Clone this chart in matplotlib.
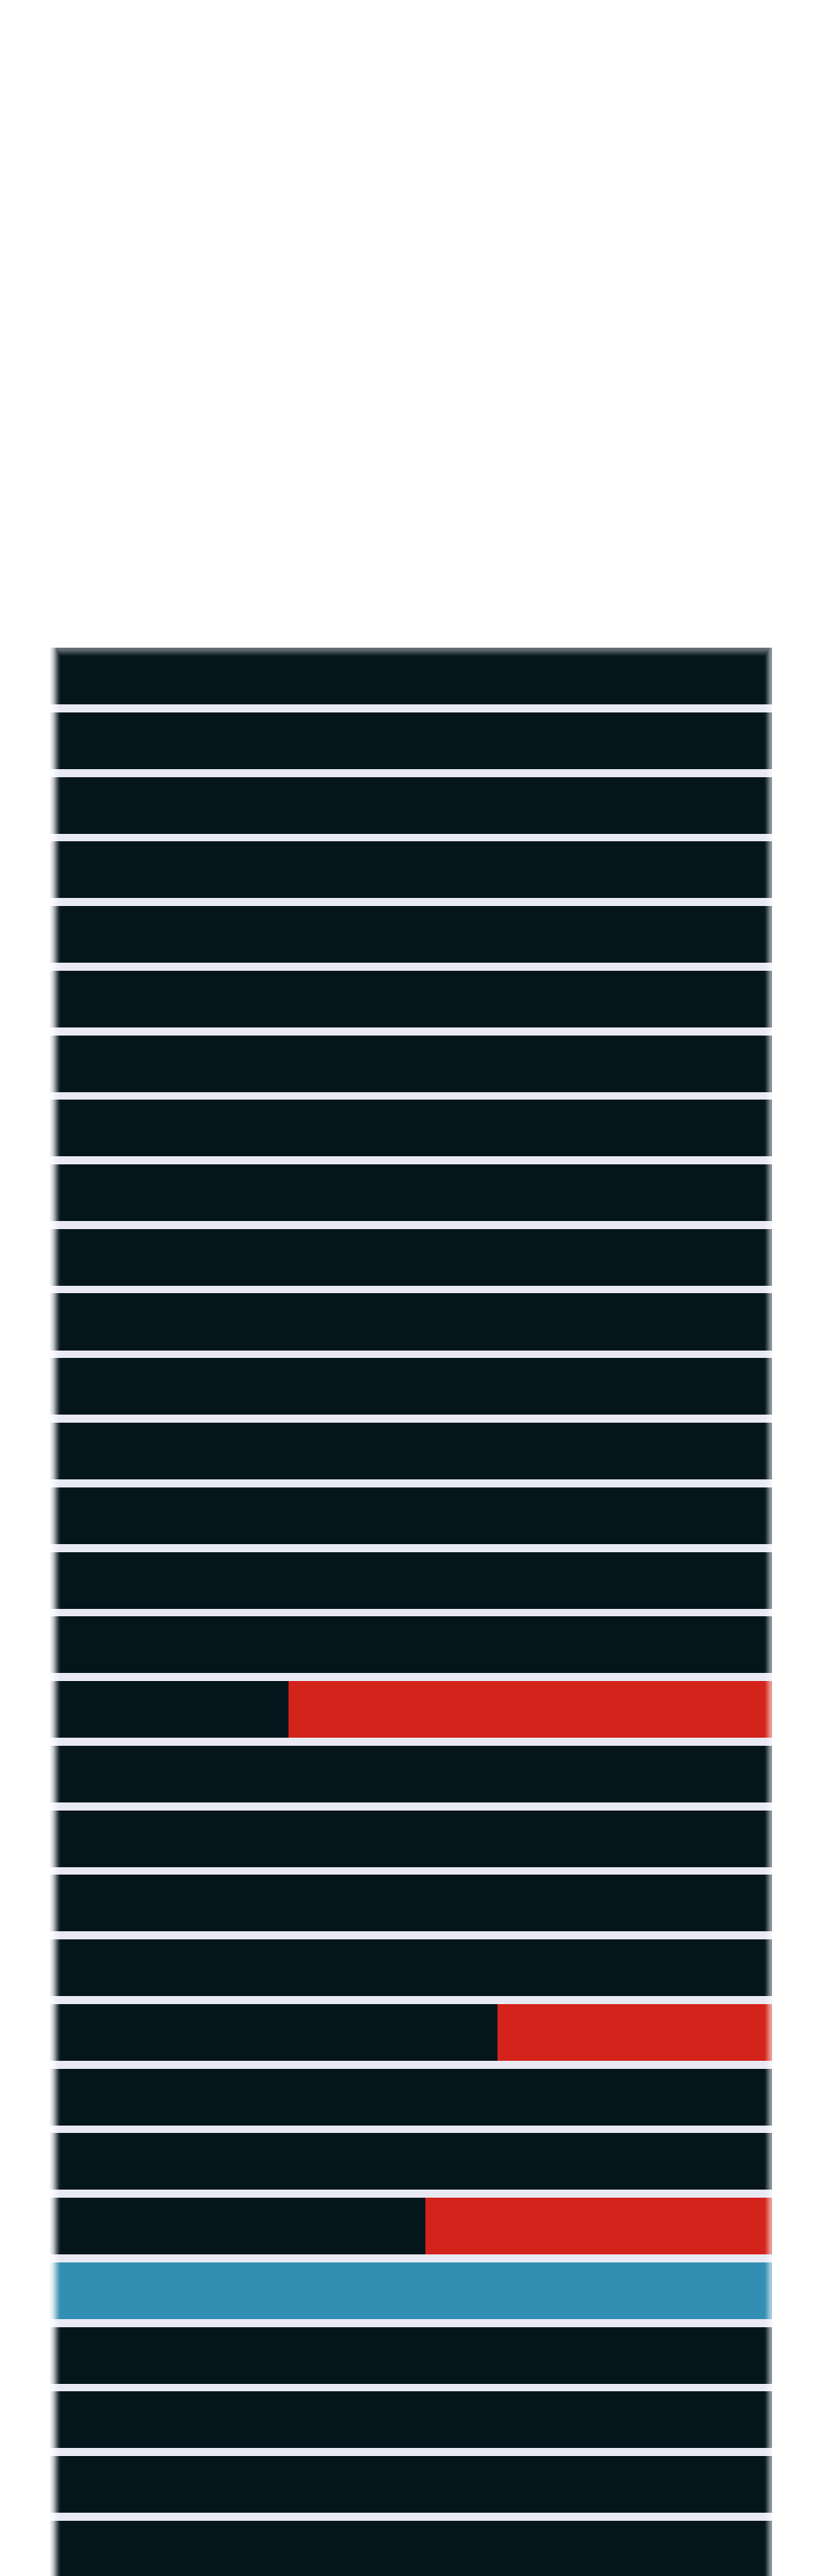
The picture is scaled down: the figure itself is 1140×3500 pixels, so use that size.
import numpy as np
import matplotlib
matplotlib.use("Agg")
import matplotlib.pyplot as plt

# 30 rows, share of each row (percent); last row is cut off by the figure edge
rows = list(range(30))
dark_vals = [100] * 16 + [33] + [100] * 4 + [62] + [100] * 2 + [52] + [0] + [100] * 4
red_vals = [0] * 16 + [67] + [0] * 4 + [38] + [0] * 2 + [48] + [0] + [0] * 4
blue_vals = [0] * 25 + [100] + [0] * 4

DARK = "#04151c"
RED = "#d4231a"
BLUE = "#328eb2"
GAP = "#e8e9f3"

W, H = 1140, 3500
fig = plt.figure(figsize=(W / 100, H / 100), dpi=100)
fig.patch.set_facecolor("white")

ax_l, ax_w = 68 / W, 981 / W
ax_top = 880
ax_h = H - ax_top
ax = fig.add_axes([ax_l, 0, ax_w, ax_h / H])
ax.set_facecolor(GAP)

bh = 0.8775
y = np.array(rows)
d = np.array(dark_vals)
r = np.array(red_vals)
b = np.array(blue_vals)
ax.barh(y, d, height=bh, color=DARK, lw=0)
ax.barh(y, r, left=d, height=bh, color=RED, lw=0)
ax.barh(y, b, left=d + r, height=bh, color=BLUE, lw=0)

row_px = 87.75
ax.set_xlim(0, 100)
ax.set_ylim(-bh / 2 + ax_h / row_px, -bh / 2)
ax.set_xticks([])
ax.set_yticks([])
for s in ax.spines.values():
    s.set_visible(False)

# soft white fade along the left, right and top edges
pw, ph = 981, ax_h
xs = np.arange(pw)[None, :]
ys = np.arange(ph)[:, None]
def ramp(dist, width, peak):
    t = np.clip(dist / width, 0, 1)
    return peak * (1 - (3 * t ** 2 - 2 * t ** 3))
alpha = np.maximum(ramp(xs, 15.0, 0.92), ramp(pw - 1 - xs, 11.0, 0.55))
alpha = np.maximum(alpha, ramp(ys, 13.0, 0.4))
img = np.ones((ph, pw, 4))
img[..., 3] = alpha
ax.imshow(img, extent=(0, 1, 0, 1), transform=ax.transAxes, aspect="auto",
          zorder=5, interpolation="nearest")

fig.savefig("out.png", dpi=100, facecolor="white")
plt.close(fig)
